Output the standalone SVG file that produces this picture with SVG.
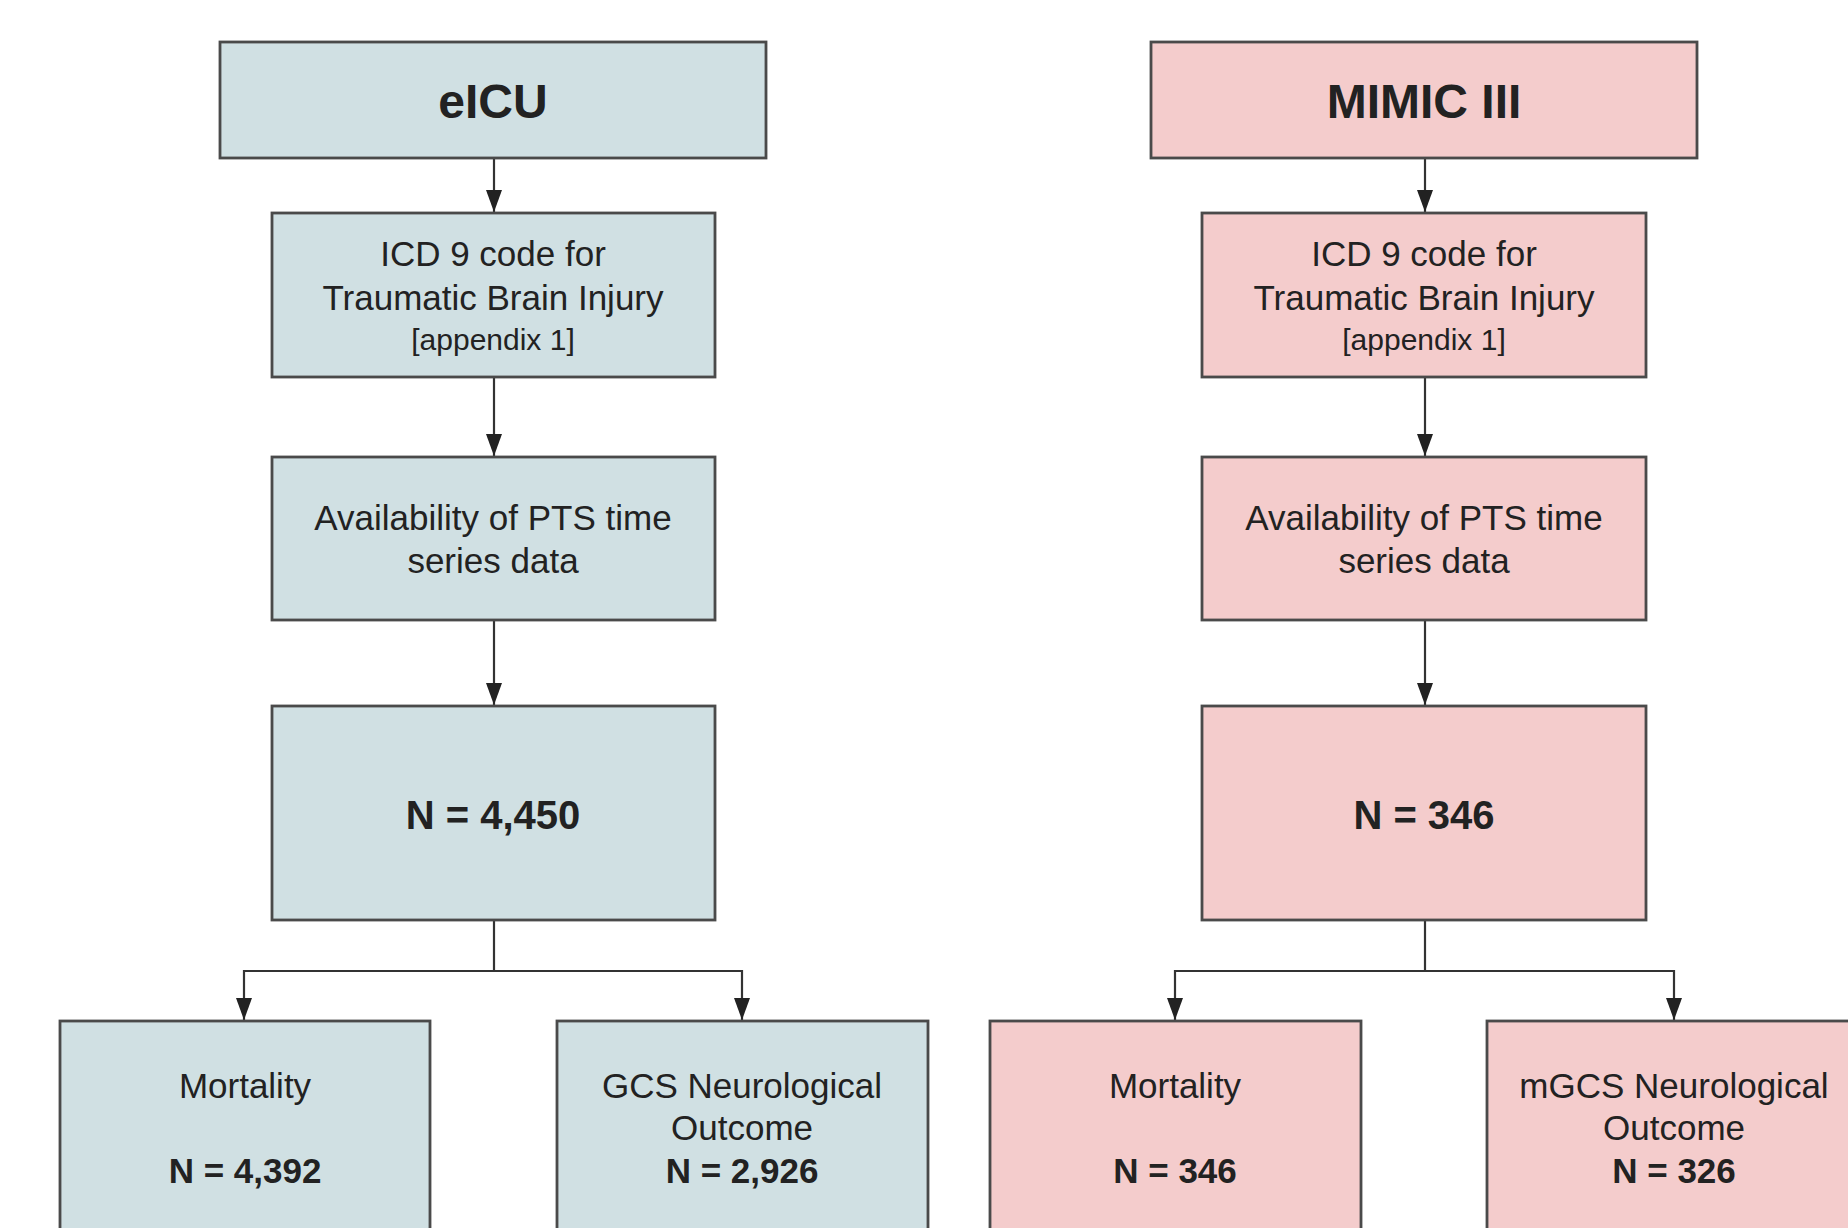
<svg xmlns="http://www.w3.org/2000/svg" width="1848" height="1228" viewBox="0 0 1848 1228">
<style>
.b{fill:#d0e0e3;stroke:#4a4a4a;stroke-width:2.8}
.p{fill:#f4cccc;stroke:#4a4a4a;stroke-width:2.8}
text{font-family:"Liberation Sans",Arial,sans-serif;fill:#222;text-anchor:middle}
.h{font-size:48px;font-weight:bold}
.t{font-size:35px}
.s{font-size:30px}
.n{font-size:40px;font-weight:bold}
.m{font-size:35px;font-weight:bold}
.c{fill:none;stroke:#333;stroke-width:2.2}
</style>
<rect width="1848" height="1228" fill="#fff"/>
<g id="connectors">
<path class="c" d="M494,158 V212"/>
<path class="c" d="M494,377 V456"/>
<path class="c" d="M494,620 V705"/>
<path class="c" d="M494,920 V971 H244 V1020 M494,971 H742 V1020"/>
<path class="c" d="M1425,158 V212"/>
<path class="c" d="M1425,377 V456"/>
<path class="c" d="M1425,620 V705"/>
<path class="c" d="M1425,920 V971 H1175 V1020 M1425,971 H1674 V1020"/>
<g fill="#222">
<path d="M486,190 H502 L494,212 Z"/>
<path d="M486,434 H502 L494,456 Z"/>
<path d="M486,683 H502 L494,705 Z"/>
<path d="M236,998 H252 L244,1020 Z"/>
<path d="M734,998 H750 L742,1020 Z"/>
<path d="M1417,190 H1433 L1425,212 Z"/>
<path d="M1417,434 H1433 L1425,456 Z"/>
<path d="M1417,683 H1433 L1425,705 Z"/>
<path d="M1167,998 H1183 L1175,1020 Z"/>
<path d="M1666,998 H1682 L1674,1020 Z"/>
</g>
</g>
<g id="eicu"><rect class="b" x="220" y="42" width="546" height="116"/><text class="h" x="493" y="118">eICU</text></g>
<g id="eicu-icd"><rect class="b" x="272" y="213" width="443" height="164"/><text class="t" x="493" y="266">ICD 9 code for</text><text class="t" x="493" y="310">Traumatic Brain Injury</text><text class="s" x="493" y="350">[appendix 1]</text></g>
<g id="eicu-pts"><rect class="b" x="272" y="457" width="443" height="163"/><text class="t" x="493" y="530">Availability of PTS time</text><text class="t" x="493" y="573">series data</text></g>
<g id="eicu-n"><rect class="b" x="272" y="706" width="443" height="214"/><text class="n" x="493" y="829">N = 4,450</text></g>
<g id="eicu-mort"><rect class="b" x="60" y="1021" width="370" height="260"/><text class="t" x="245" y="1098">Mortality</text><text class="m" x="245" y="1183">N = 4,392</text></g>
<g id="eicu-gcs"><rect class="b" x="557" y="1021" width="371" height="260"/><text class="t" x="742" y="1098">GCS Neurological</text><text class="t" x="742" y="1140">Outcome</text><text class="m" x="742" y="1183">N = 2,926</text></g>
<g id="mimic"><rect class="p" x="1151" y="42" width="546" height="116"/><text class="h" x="1424" y="118">MIMIC III</text></g>
<g id="mimic-icd"><rect class="p" x="1202" y="213" width="444" height="164"/><text class="t" x="1424" y="266">ICD 9 code for</text><text class="t" x="1424" y="310">Traumatic Brain Injury</text><text class="s" x="1424" y="350">[appendix 1]</text></g>
<g id="mimic-pts"><rect class="p" x="1202" y="457" width="444" height="163"/><text class="t" x="1424" y="530">Availability of PTS time</text><text class="t" x="1424" y="573">series data</text></g>
<g id="mimic-n"><rect class="p" x="1202" y="706" width="444" height="214"/><text class="n" x="1424" y="829">N = 346</text></g>
<g id="mimic-mort"><rect class="p" x="990" y="1021" width="371" height="260"/><text class="t" x="1175" y="1098">Mortality</text><text class="m" x="1175" y="1183">N = 346</text></g>
<g id="mimic-gcs"><rect class="p" x="1487" y="1021" width="372" height="260"/><text class="t" x="1674" y="1098">mGCS Neurological</text><text class="t" x="1674" y="1140">Outcome</text><text class="m" x="1674" y="1183">N = 326</text></g>
</svg>
